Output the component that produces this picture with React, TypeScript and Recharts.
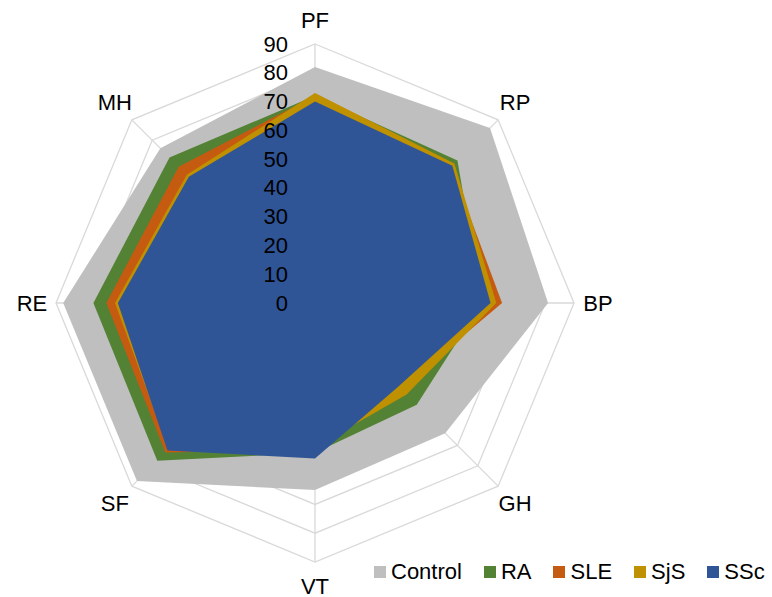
import React from 'react';
import { RadarChart, Radar, PolarGrid, PolarAngleAxis, PolarRadiusAxis, Legend } from 'recharts';

const categories = ['PF', 'RP', 'BP', 'GH', 'VT', 'SF', 'RE', 'MH'];
const control = [82, 86, 81, 64, 65, 87.5, 87.5, 76];
const ra = [72, 70, 58, 50, 52, 77.5, 77, 71.5];
const sle = [72, 67, 65, 42, 51, 73.5, 72.5, 67];
const sjs = [73, 68.5, 63, 45, 50, 72, 69.5, 63];
const ssc = [70, 67.5, 61, 41, 54, 72.5, 68.5, 62];
const radiusTicks = [0, 10, 20, 30, 40, 50, 60, 70, 80, 90];

const seriesNames = ['Control', 'RA', 'SLE', 'SjS', 'SSc'];
const seriesColors = ['#BFBFBF', '#548235', '#C55A11', '#BF9000', '#2F5597'];
const seriesValues = [control, ra, sle, sjs, ssc];

const data = categories.map((c, i) => {
  const row: any = { cat: c };
  seriesNames.forEach((n, k) => {
    row[n] = seriesValues[k][i];
  });
  return row;
});

const CX = 315;
const CY = 303;
const R = 259;
const FONT = '"Liberation Sans", Arial, sans-serif';

const AngleTick = (props: any) => {
  const { x, y, payload } = props;
  const dx = x - CX;
  const dy = y - CY;
  const d = Math.sqrt(dx * dx + dy * dy) || 1;
  const lr = R + 24;
  const tx = CX + (dx / d) * lr;
  const ty = CY + (dy / d) * lr;
  return (
    <text x={tx} y={ty} textAnchor="middle" dominantBaseline="central" fontSize={22} fill="#000" fontFamily={FONT}>
      {payload.value}
    </text>
  );
};

const RadiusTick = (props: any) => {
  const { x, y, payload } = props;
  return (
    <text x={x - 27} y={y} textAnchor="end" dominantBaseline="central" fontSize={22} fill="#000" fontFamily={FONT}>
      {payload.value}
    </text>
  );
};

const LegendContent = () => (
  <div style={{ display: 'flex', alignItems: 'center', fontFamily: FONT, fontSize: 22, color: '#000', whiteSpace: 'nowrap' }}>
    {seriesNames.map((n, i) => (
      <div key={n} style={{ display: 'flex', alignItems: 'center', marginRight: 22 }}>
        <span style={{ display: 'inline-block', width: 12, height: 12, background: seriesColors[i], marginRight: 5 }} />
        <span>{n}</span>
      </div>
    ))}
  </div>
);

export default function App() {
  return (
    <div style={{ position: 'absolute', left: 0, top: 0, width: 772, height: 597, background: '#fff' }}>
      <RadarChart
        width={772}
        height={597}
        data={data}
        cx={CX}
        cy={CY}
        outerRadius={R}
        startAngle={90}
        endAngle={-270}
        margin={{ top: 0, right: 0, bottom: 0, left: 0 }}
      >
        <PolarGrid gridType="polygon" stroke="#D9D9D9" strokeWidth={1.3} radialLines={false} />
        <PolarAngleAxis dataKey="cat" tick={<AngleTick />} tickLine={false} axisLine={false} />
        {seriesNames.map((n, i) => (
          <Radar
            key={n}
            name={n}
            dataKey={n}
            fill={seriesColors[i]}
            fillOpacity={1}
            stroke="none"
            isAnimationActive={false}
          />
        ))}
        <PolarGrid gridType="polygon" stroke="#D9D9D9" strokeWidth={1.3} polarRadius={[0]} radialLines={true} />
        <PolarRadiusAxis
          angle={90}
          domain={[0, 90]}
          ticks={radiusTicks as any}
          tickCount={10}
          tick={<RadiusTick />}
          axisLine={false}
          tickLine={false}
        />
        <Legend
          content={<LegendContent />}
          wrapperStyle={{ position: 'absolute', left: 374, top: 559, width: 400, bottom: 'auto' }}
        />
      </RadarChart>
    </div>
  );
}
